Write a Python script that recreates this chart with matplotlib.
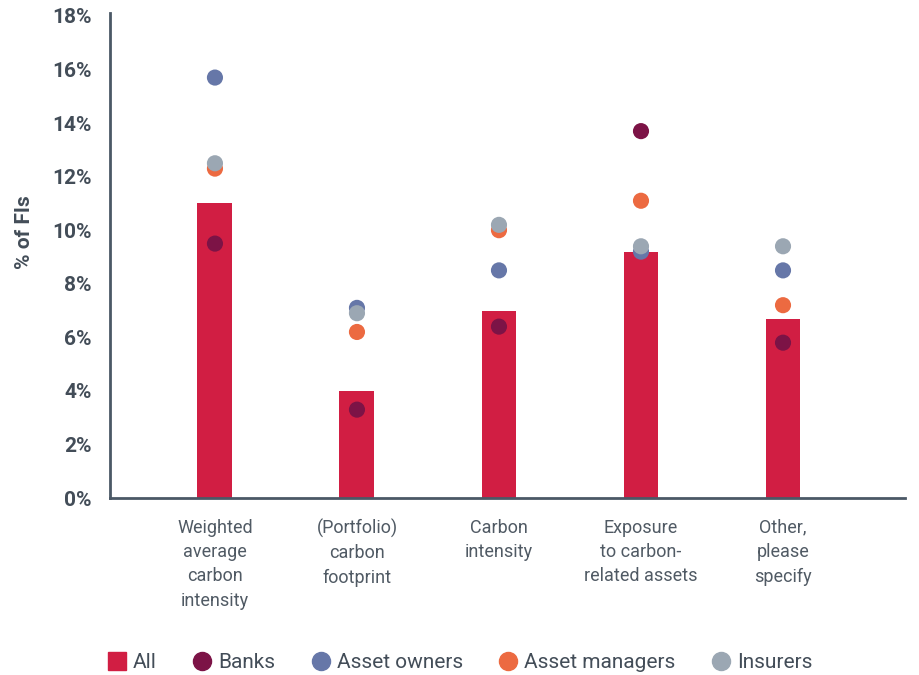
import matplotlib
matplotlib.use("Agg")
import matplotlib.pyplot as plt
from matplotlib.lines import Line2D
import numpy as np

plt.rcParams['font.family'] = ['Roboto', 'DejaVu Sans']

categories = ["Weighted\naverage\ncarbon\nintensity",
              "(Portfolio)\ncarbon\nfootprint",
              "Carbon\nintensity",
              "Exposure\nto carbon-\nrelated assets",
              "Other,\nplease\nspecify"]
all_vals = [11.0, 4.0, 7.0, 9.2, 6.7]
banks = [9.5, 3.3, 6.4, 13.7, 5.8]
asset_owners = [15.7, 7.1, 8.5, 9.2, 8.5]
asset_managers = [12.3, 6.2, 10.0, 11.1, 7.2]
insurers = [12.5, 6.9, 10.2, 9.4, 9.4]
yticks = [0, 2, 4, 6, 8, 10, 12, 14, 16, 18]

c_all = '#D11E43'
c_banks = '#7C1346'
c_owners = '#6677A8'
c_managers = '#EC6A41'
c_insurers = '#9BA7B3'
c_text = '#434D58'
c_axis = '#4B5866'

fig = plt.figure(figsize=(9.2, 6.75), dpi=100)
ax = fig.add_axes([110/920, 1-498/675, (905-110)/920, (498-13.3)/675])

x = np.arange(len(categories))
ax.bar(x, all_vals, width=0.246, color=c_all, zorder=2)
for vals, col in [(banks, c_banks), (asset_owners, c_owners),
                  (asset_managers, c_managers), (insurers, c_insurers)]:
    ax.scatter(x, vals, s=135, color=col, edgecolors='none', zorder=3)

ax.set_xlim(-0.739, 4.859)
ax.set_ylim(0, 18.1)
ax.set_yticks(yticks)
ax.set_yticklabels([f"{v}%" for v in yticks], fontsize=15, fontweight='bold', color=c_text)
ax.set_xticks(x)
ax.set_xticklabels(categories, fontsize=13, color='#505A64', linespacing=1.45,
                   multialignment='center', va='top')
ax.tick_params(axis='y', length=0, pad=13)
ax.tick_params(axis='x', length=0, pad=15)
for s in ['top', 'right']:
    ax.spines[s].set_visible(False)
for s in ['left', 'bottom']:
    ax.spines[s].set_color(c_axis)
    ax.spines[s].set_linewidth(2)
ax.set_ylabel("% of FIs", fontsize=15, fontweight='bold', color=c_text)
ax.yaxis.set_label_coords(-(110-34)/795, 1-(232-13.3)/(498-13.3))

handles = [
    Line2D([], [], marker='s', linestyle='none', markersize=13.5, color=c_all),
    Line2D([], [], marker='o', linestyle='none', markersize=13, color=c_banks),
    Line2D([], [], marker='o', linestyle='none', markersize=13, color=c_owners),
    Line2D([], [], marker='o', linestyle='none', markersize=13, color=c_managers),
    Line2D([], [], marker='o', linestyle='none', markersize=13, color=c_insurers),
]
labels = ["All", "Banks", "Asset owners", "Asset managers", "Insurers"]
leg = fig.legend(handles, labels, loc='center left', bbox_to_anchor=(107/920, 1-663/675),
                 ncol=5, frameon=False, fontsize=15, handlelength=0.95,
                 handletextpad=0.3, columnspacing=1.7, borderpad=0, borderaxespad=0)
for t in leg.get_texts():
    t.set_color(c_text)

fig.savefig("out.png", dpi=100)
